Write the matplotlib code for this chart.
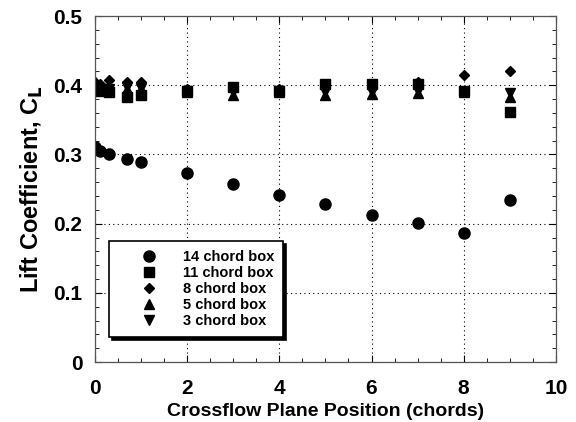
import matplotlib
matplotlib.use("Agg")
import matplotlib.pyplot as plt
from matplotlib.ticker import MultipleLocator

plt.rcParams['font.family'] = ['Liberation Sans', 'DejaVu Sans']
plt.rcParams['font.weight'] = 'bold'

x = [0, 0.1, 0.3, 0.7, 1, 2, 3, 4, 5, 6, 7, 8, 9]
cl_14 = [0.311, 0.305, 0.300, 0.294, 0.289, 0.273, 0.257, 0.241, 0.228, 0.213, 0.201, 0.187, 0.234]
cl_11 = [0.395, 0.392, 0.390, 0.383, 0.386, 0.392, 0.397, 0.392, 0.402, 0.402, 0.402, 0.392, 0.362]
cl_8 = [0.405, 0.402, 0.407, 0.405, 0.405, 0.395, 0.398, 0.395, 0.400, 0.400, 0.404, 0.415, 0.420]
cl_5 = [0.395, 0.393, 0.393, 0.395, 0.394, 0.390, 0.386, 0.390, 0.386, 0.387, 0.389, 0.390, 0.383]
cl_3 = [0.397, 0.395, 0.395, 0.397, 0.396, 0.391, 0.390, 0.391, 0.390, 0.390, 0.392, 0.390, 0.389]
labels = ['14 chord box', '11 chord box', '8 chord box', '5 chord box', '3 chord box']
yticks = [0, 0.1, 0.2, 0.3, 0.4, 0.5]
ytick_labels = ['0', '0.1', '0.2', '0.3', '0.4', '0.5']

fig = plt.figure(figsize=(5.76, 4.22), dpi=100)
ax = fig.add_axes([0.165, 0.142, 0.800, 0.820])

series = [(cl_14, 'o', 8), (cl_11, 's', 7.5), (cl_8, 'D', 5.5), (cl_5, '^', 7.5), (cl_3, 'v', 7.5)]
for (vals, m, ms), lab in zip(series, labels):
    ax.plot(x, vals, linestyle='none', marker=m, markersize=ms, color='black', label=lab)

ax.set_xlim(0, 10)
ax.set_ylim(0, 0.5)
ax.xaxis.set_major_locator(MultipleLocator(2))
ax.xaxis.set_minor_locator(MultipleLocator(0.5))
ax.yaxis.set_minor_locator(MultipleLocator(0.02))
ax.set_yticks(yticks)
ax.set_yticklabels(ytick_labels)
ax.tick_params(which='both', direction='in', top=True, right=True, labelsize=15)
ax.tick_params(which='major', length=5, width=0.8)
ax.tick_params(axis='y', which='major', pad=9)
ax.tick_params(axis='x', which='major', pad=12)
ax.tick_params(which='minor', length=3, width=0.6)
ax.grid(True, which='major', linestyle=(0, (1, 3)), color='black', linewidth=0.8)
for s in ax.spines.values():
    s.set_linewidth(0.9)
    s.set_color('#555555')

ax.set_xlabel('Crossflow Plane Position (chords)', fontsize=14, fontweight='bold', labelpad=3.5)
ax.set_ylabel('Lift Coefficient, C$_\\mathbf{L}$', fontsize=17, fontweight='bold', labelpad=6)

leg = ax.legend(loc='lower left', bbox_to_anchor=(0.03, 0.072), borderaxespad=0,
                frameon=True, fancybox=False, edgecolor='black', fontsize=10.5,
                handlelength=4.27, handletextpad=0.2, borderpad=0.6, labelspacing=0.15,
                shadow={'color': 'black', 'alpha': 1.0})
leg.get_frame().set_linewidth(1.2)
for t in leg.get_texts():
    t.set_fontweight('bold')

fig.savefig('out.png', dpi=100)
